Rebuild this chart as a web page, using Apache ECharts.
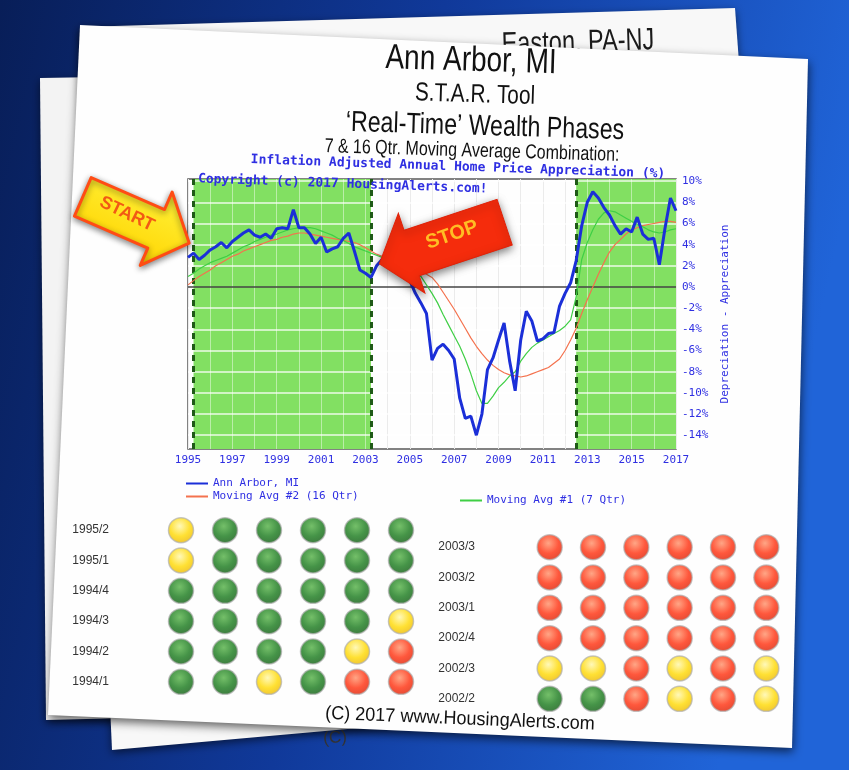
<!DOCTYPE html>
<html><head><meta charset="utf-8">
<script src="https://cdn.jsdelivr.net/npm/echarts@6/dist/echarts.min.js"></script>
<style>html,body{margin:0;padding:0;background:#0c2c78;}#c{width:849px;height:770px;}</style>
</head><body><div id="c"></div>
<script>
// ---------- data ----------
const categories = [];
for (let y = 1995; y <= 2017; y++) for (let q = 1; q <= 4; q++) { if (y === 2017 && q > 1) break; categories.push(y + 'Q' + q); }

const annArbor = [2.8,3.2,2.6,3.0,3.5,3.8,4.2,3.7,4.3,4.7,5.1,5.4,4.9,4.7,5.0,4.6,5.5,5.6,5.5,7.3,
  5.6,5.6,5.0,4.1,4.7,3.3,3.6,3.8,4.6,5.1,3.4,1.6,1.3,0.9,2.0,2.6,2.9,2.5,1.8,1.2,
  0.6,-0.6,-1.5,-2.5,-6.9,-5.8,-5.4,-6.0,-6.8,-10.5,-12.4,-12.2,-14.0,-12.0,-7.8,-6.7,-5.0,-3.4,-7.0,-9.8,
  -5.0,-2.3,-3.2,-5.1,-4.9,-4.4,-4.3,-1.8,-0.6,0.4,2.5,5.8,8.0,9.0,8.4,7.5,6.8,5.8,5.0,5.5,
  5.2,6.6,5.0,4.5,4.6,2.1,5.5,8.4,7.2];
const movingAvg16 = [0.2,0.6,1.0,1.3,1.6,2.0,2.3,2.6,2.9,3.1,3.4,3.6,3.8,4.0,4.2,4.4,4.5,4.7,4.8,5.0,
  5.1,5.1,5.0,4.9,4.8,4.7,4.6,4.5,4.4,4.3,4.2,4.0,3.7,3.4,3.1,2.9,2.7,2.5,2.3,2.1,
  1.9,1.7,1.5,1.2,0.9,0.3,-0.5,-1.3,-2.1,-3.0,-3.9,-4.8,-5.6,-6.3,-6.9,-7.4,-7.8,-8.1,-8.3,-8.4,
  -8.5,-8.4,-8.2,-8.0,-7.8,-7.6,-7.2,-6.8,-6.0,-5.0,-3.9,-2.5,-1.2,0.0,1.2,2.3,3.3,4.0,4.5,5.0,
  5.4,5.6,5.8,5.9,6.0,6.1,6.2,6.2,6.1];
const movingAvg7 = [1.0,1.3,1.7,2.0,2.3,2.5,2.7,2.9,3.2,3.5,3.8,4.0,4.3,4.5,4.7,4.9,5.0,5.2,5.4,5.5,
  5.6,5.6,5.6,5.5,5.3,5.1,4.9,4.6,4.4,4.1,3.8,3.6,3.4,3.2,3.0,2.8,2.6,2.4,2.1,1.9,
  1.6,1.4,1.0,0.2,-0.6,-1.5,-2.6,-3.6,-4.6,-5.6,-6.8,-8.2,-9.8,-11.0,-11.0,-10.3,-9.5,-9.0,-8.4,-8.0,
  -7.0,-6.3,-5.7,-5.3,-5.0,-4.7,-4.4,-4.1,-3.7,-3.1,-0.9,2.6,4.2,5.4,6.4,7.0,7.2,7.1,6.8,6.5,
  6.2,5.9,5.7,5.4,5.2,5.1,5.2,5.4,5.5];
const greenZones = [['1995Q2','2003Q2'], ['2012Q3','2017Q1']];
const yTicks = [-14,-12,-10,-8,-6,-4,-2,0,2,4,6,8,10];

const leftRows = ['1995/2','1995/1','1994/4','1994/3','1994/2','1994/1'];
const leftDots = [
  ['Y','G','G','G','G','G'],
  ['Y','G','G','G','G','G'],
  ['G','G','G','G','G','G'],
  ['G','G','G','G','G','Y'],
  ['G','G','G','G','Y','R'],
  ['G','G','Y','G','R','R']];
const rightRows = ['2003/3','2003/2','2003/1','2002/4','2002/3','2002/2'];
const rightDots = [
  ['R','R','R','R','R','R'],
  ['R','R','R','R','R','R'],
  ['R','R','R','R','R','R'],
  ['R','R','R','R','R','R'],
  ['Y','Y','R','Y','R','Y'],
  ['G','G','R','Y','R','Y']];
const dotCols = ['1','2','3','4','5','6'];

// ---------- styles ----------
const BLUE_TXT = '#2f2fe2';
const MONO = '"DejaVu Sans Mono", "Liberation Mono", monospace';
const SANS = '"Liberation Sans", Arial, sans-serif';
const NARROW_SCALE = 0.8;

function dotStyle(s) {
  const m = {G:['#52b044','#17791a','#0b560d'], Y:['#fff7a8','#ffd900','#e9b200'], R:['#ff9068','#ff2e0c','#d81c00']};
  const c = m[s];
  return {color:{type:'radial',x:0.45,y:0.35,r:0.7,colorStops:[{offset:0,color:c[0]},{offset:0.55,color:c[1]},{offset:1,color:c[2]}]},
    borderColor:'rgba(175,175,175,0.85)', borderWidth:1.5};
}
function dotData(rows) {
  const out = [];
  rows.forEach((row, r) => row.forEach((s, c) => out.push({value:[c, r], itemStyle: dotStyle(s)})));
  return out;
}
function arrowPts(L, h, w, W) {
  return [[-L,-w],[L-h,-w],[L-h,-W],[L,0],[L-h,W],[L-h,w],[-L,w]];
}
function title(text, x, y, size, extra) {
  return Object.assign({type: 'text', z: 50, silent: true, x: x, y: y, rotation: -0.03, scaleX: NARROW_SCALE,
    style: {text: text, font: size + 'px ' + SANS, fill: '#111', align: 'center', verticalAlign: 'middle'}}, extra || {});
}

const hLines = yTicks.filter(v => v !== 0).map(v => ({yAxis: v}));
const vLines = categories.filter((c, i) => i % 4 === 0).map(c => ({xAxis: c}));

const chart = echarts.init(document.getElementById('c'));
chart.setOption({
  animation: false,
  backgroundColor: '#0c2c78',
  grid: [
    {left: 188, right: 173, top: 179, height: 270, show: true, borderColor: '#5a5a5a', borderWidth: 1.5, backgroundColor: 'transparent'},
    {left: 159, top: 515, width: 264, height: 182},
    {left: 528, top: 532, width: 260, height: 182}
  ],
  xAxis: [
    {type: 'category', gridIndex: 0, data: categories, boundaryGap: false,
      axisLine: {show: false}, axisTick: {show: false},
      axisLabel: {interval: 7, margin: 6, color: BLUE_TXT, fontFamily: MONO, fontSize: 11, formatter: v => v.slice(0, 4)},
      splitLine: {show: true, interval: 3, lineStyle: {color: '#dadada', width: 1}}},
    {type: 'category', gridIndex: 1, data: dotCols, show: false},
    {type: 'category', gridIndex: 2, data: dotCols, show: false}
  ],
  yAxis: [
    {type: 'value', gridIndex: 0, position: 'right', min: -15.3, max: 10.2,
      axisLine: {show: false}, axisTick: {show: false}, splitLine: {show: false},
      axisLabel: {customValues: yTicks, margin: 6, color: BLUE_TXT, fontFamily: MONO, fontSize: 11, formatter: v => v + '%'},
      name: 'Depreciation - Appreciation', nameLocation: 'middle', nameRotate: 90, nameGap: 40,
      nameTextStyle: {color: BLUE_TXT, fontFamily: MONO, fontSize: 11}},
    {type: 'category', gridIndex: 1, data: leftRows, inverse: true, position: 'left',
      axisLine: {show: false}, axisTick: {show: false},
      axisLabel: {margin: 50, color: '#333', fontFamily: SANS, fontSize: 12}},
    {type: 'category', gridIndex: 2, data: rightRows, inverse: true, position: 'left',
      axisLine: {show: false}, axisTick: {show: false},
      axisLabel: {margin: 53, color: '#333', fontFamily: SANS, fontSize: 12}}
  ],
  legend: [
    {left: 181, top: 473, orient: 'vertical', itemGap: 2, itemWidth: 22, itemHeight: 2, icon: 'rect',
      data: ['Ann Arbor, MI', 'Moving Avg #2 (16 Qtr)'],
      textStyle: {color: BLUE_TXT, fontFamily: MONO, fontSize: 11}, selectedMode: false},
    {left: 455, top: 490, orient: 'vertical', itemWidth: 22, itemHeight: 2, icon: 'rect',
      data: ['Moving Avg #1 (7 Qtr)'],
      textStyle: {color: BLUE_TXT, fontFamily: MONO, fontSize: 11}, selectedMode: false}
  ],
  series: [
    {type: 'line', xAxisIndex: 0, yAxisIndex: 0, data: [], silent: true,
      markArea: {z: 1, silent: true, itemStyle: {color: '#82e062'},
        data: greenZones.map(zn => [{xAxis: zn[0]}, {xAxis: zn[1]}])}},
    {type: 'line', xAxisIndex: 0, yAxisIndex: 0, data: [], silent: true,
      markLine: {z: 2, silent: true, symbol: 'none', label: {show: false},
        lineStyle: {color: 'rgba(255,255,255,0.85)', width: 1.5, type: 'solid'},
        data: hLines}},
    {type: 'line', xAxisIndex: 0, yAxisIndex: 0, data: [], silent: true,
      markLine: {z: 2, silent: true, symbol: 'none', label: {show: false},
        lineStyle: {color: 'rgba(255,255,255,0.45)', width: 1, type: 'solid'},
        data: vLines}},
    {type: 'line', xAxisIndex: 0, yAxisIndex: 0, data: [], silent: true,
      markLine: {z: 3, silent: true, symbol: 'none', label: {show: false},
        lineStyle: {color: '#1f5a17', width: 3, type: [6, 5]},
        data: [{xAxis: greenZones[0][0]}, {xAxis: greenZones[0][1]}, {xAxis: greenZones[1][0]}]}},
    {type: 'line', xAxisIndex: 0, yAxisIndex: 0, data: [], silent: true,
      markLine: {z: 3, silent: true, symbol: 'none', label: {show: false},
        lineStyle: {color: '#444', width: 1.5, type: 'solid'},
        data: [{yAxis: 0}]}},
    {name: 'Moving Avg #2 (16 Qtr)', type: 'line', z: 4, xAxisIndex: 0, yAxisIndex: 0, data: movingAvg16,
      showSymbol: false, lineStyle: {color: '#f4724e', width: 1.2}, itemStyle: {color: '#f4724e'}},
    {name: 'Moving Avg #1 (7 Qtr)', type: 'line', z: 5, xAxisIndex: 0, yAxisIndex: 0, data: movingAvg7,
      showSymbol: false, lineStyle: {color: '#3fcf45', width: 1.2}, itemStyle: {color: '#3fcf45'}},
    {name: 'Ann Arbor, MI', type: 'line', z: 6, xAxisIndex: 0, yAxisIndex: 0, data: annArbor,
      showSymbol: false, lineStyle: {color: '#1b2fd8', width: 3}, itemStyle: {color: '#1b2fd8'}},
    {type: 'scatter', xAxisIndex: 1, yAxisIndex: 1, symbolSize: 25, data: dotData(leftDots), silent: true},
    {type: 'scatter', xAxisIndex: 2, yAxisIndex: 2, symbolSize: 25, data: dotData(rightDots), silent: true}
  ],
  graphic: [
    {type: 'rect', z: -10, silent: true, shape: {x: 0, y: 0, width: 849, height: 770},
      style: {fill: {type: 'linear', x: 0, y: 0, x2: 1, y2: 0.25, colorStops: [
        {offset: 0, color: '#081e58'}, {offset: 0.5, color: '#10399a'}, {offset: 1, color: '#2064d8'}]}}},
    {type: 'polygon', z: -9, silent: true, shape: {points: [[40,78],[760,66],[772,702],[46,720]]},
      style: {fill: '#f3f3f3', shadowBlur: 8, shadowColor: 'rgba(0,0,0,0.55)', shadowOffsetY: 3}},
    {type: 'polygon', z: -8, silent: true, shape: {points: [[80,27],[735,8],[785,690],[112,750]]},
      style: {fill: '#f8f8f8', shadowBlur: 8, shadowColor: 'rgba(0,0,0,0.55)', shadowOffsetY: 3}},
    {type: 'text', z: -7, silent: true, x: 578, y: 43, rotation: 0.03, scaleX: 0.76,
      style: {text: 'Easton, PA-NJ', font: '31px ' + SANS, fill: '#1a1a1a', align: 'center', verticalAlign: 'middle'}},
    {type: 'text', z: -7, silent: true, x: 335, y: 738, rotation: 0.06,
      style: {text: '(C)', font: '17px ' + SANS, fill: '#333', align: 'center', verticalAlign: 'middle'}},
    {type: 'polygon', z: -6, silent: true, shape: {points: [[80,25],[808,59],[792,748],[48,715]]},
      style: {fill: '#fefefe', shadowBlur: 10, shadowColor: 'rgba(0,0,0,0.6)', shadowOffsetX: 1, shadowOffsetY: 4}},
    // titles
    title('Ann Arbor, MI', 471, 61, 35),
    title('S.T.A.R. Tool', 475, 95, 26),
    title('\u2018Real-Time\u2019 Wealth Phases', 485, 127, 29),
    title('7 & 16 Qtr. Moving Average Combination:', 472, 151, 20),
    {type: 'text', z: 50, silent: true, x: 458, y: 167, rotation: -0.035,
      style: {text: 'Inflation Adjusted Annual Home Price Appreciation (%)', font: 'bold 13px ' + MONO, fill: BLUE_TXT, align: 'center', verticalAlign: 'middle'}},
    {type: 'text', z: 50, silent: true, x: 198, y: 179, rotation: -0.035,
      style: {text: 'Copyright (c) 2017 HousingAlerts.com!', font: 'bold 13px ' + MONO, fill: BLUE_TXT, align: 'left', verticalAlign: 'middle'}},
    {type: 'text', z: 50, silent: true, x: 460, y: 719, rotation: -0.04, scaleX: 0.95,
      style: {text: '(C) 2017 www.HousingAlerts.com', font: '19px ' + SANS, fill: '#111', align: 'center', verticalAlign: 'middle'}},
    // START arrow
    {type: 'polygon', z: 60, silent: true, x: 136, y: 220, rotation: -0.41,
      shape: {points: arrowPts(58, 36, 21, 40)},
      style: {fill: {type: 'linear', x: 0, y: 0, x2: 0, y2: 1, colorStops: [{offset: 0, color: '#fff23a'}, {offset: 1, color: '#ffd400'}]},
        stroke: '#ff4c14', lineWidth: 3, lineJoin: 'round', shadowBlur: 6, shadowColor: 'rgba(0,0,0,0.45)', shadowOffsetY: 2}},
    {type: 'text', z: 61, silent: true, x: 127, y: 214, rotation: -0.45,
      style: {text: 'START', font: 'bold 18px ' + SANS, fill: '#f25a14', align: 'center', verticalAlign: 'middle'}},
    // STOP arrow
    {type: 'polygon', z: 60, silent: true, x: 442, y: 243, rotation: -2.82,
      shape: {points: arrowPts(66, 34, 24, 42)},
      style: {fill: '#f52c0c', stroke: '#e02208', lineWidth: 1, shadowBlur: 8, shadowColor: 'rgba(0,0,0,0.5)', shadowOffsetY: 3}},
    {type: 'text', z: 61, silent: true, x: 452, y: 235, rotation: 0.33,
      style: {text: 'STOP', font: 'bold 20px ' + SANS, fill: '#ffbd24', align: 'center', verticalAlign: 'middle'}}
  ]
});
</script></body></html>
